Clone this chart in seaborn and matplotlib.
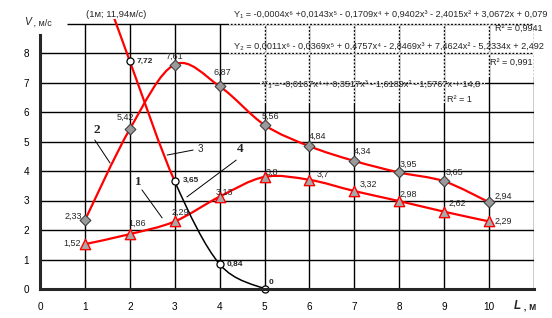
import numpy as np
import matplotlib
matplotlib.use("Agg")
import matplotlib.pyplot as plt
import seaborn as sns
from matplotlib.path import Path
from matplotlib.patches import PathPatch

# ---------------- data ----------------
L = [1, 2, 3, 4, 5, 6, 7, 8, 9, 10]
v_series2 = [2.33, 5.42, 7.61, 6.87, 5.56, 4.84, 4.34, 3.95, 3.65, 2.94]   # diamonds
v_series4 = [1.52, 1.86, 2.29, 3.13, 3.8, 3.7, 3.32, 2.98, 2.62, 2.29]     # triangles
L_series13 = [1, 2, 3, 4, 5]
v_series13 = [11.94, 7.72, 3.65, 0.84, 0]                                   # circles (3 red, 1 black)

x_ticks = [0, 1, 2, 3, 4, 5, 6, 7, 8, 9, 10]
y_ticks = [0, 1, 2, 3, 4, 5, 6, 7, 8]

eq1 = "Y\u2081 = -0,0004x\u2076 +0,0143x\u2075 - 0,1709x\u2074 + 0,9402x\u00b3 - 2,4015x\u00b2 + 3,0672x + 0,079"
r1 = "R\u00b2 = 0,9941"
eq2 = "Y\u2082 = 0,0011x\u2076 - 0,0369x\u2075 + 0,4757x\u2074 - 2,8469x\u00b3 + 7,4624x\u00b2 - 5,2334x + 2,492"
r2 = "R\u00b2 = 0,991"
eq3 = "Y\u2083 = -0,0167x\u2074 + 0,3517x\u00b3 - 1,6189x\u00b2 - 1,5767x + 14,8"
r3 = "R\u00b2 = 1"

# ---------------- style ----------------
sns.set_style("white")
plt.rcParams["font.family"] = ["Liberation Sans", "DejaVu Sans"]

RED = "#ff0000"
fig = plt.figure(figsize=(5.52, 3.18), dpi=100)
ax = fig.add_axes([40 / 552, 29 / 318, 494 / 552, 270 / 318])
ax.set_xlim(0, 11)
ax.set_ylim(0, 270 / 29.5)

for s in ["top", "right"]:
    ax.spines[s].set_visible(False)
ax.spines["left"].set_linewidth(2.2)
ax.spines["bottom"].set_linewidth(2.2)
ax.spines["left"].set_bounds(0, 8.6)
ax.spines["left"].set_zorder(6)
ax.spines["bottom"].set_zorder(6)

ax.set_xticks(x_ticks + [11])
ax.set_xticklabels([str(t) for t in x_ticks] + [""])
ax.set_yticks(y_ticks)
ax.set_yticklabels([str(t) for t in y_ticks])
ax.tick_params(axis="both", direction="out", length=3, width=1.5, labelsize=7.2, colors="black")
ax.tick_params(axis="y", pad=5)
ax.tick_params(axis="x", pad=6)

# grid
ax.hlines([1, 2, 3, 4, 5, 6, 7, 8], 0, 11, colors="black", lw=1.0, zorder=1)
ax.hlines([9], 0.6, 11, colors="black", lw=1.0, zorder=1)
ax.vlines([1, 2, 3, 4, 5, 6, 7, 8, 9, 10, 11], 0, 9, colors="black", lw=1.0, zorder=1)

# dotted look of grid behind the trendline labels
dot = dict(colors="white", lw=1.3, linestyles=[(0, (1, 1))], zorder=1.5)
ax.hlines([8, 9], 4.2, 11, **dot)
ax.vlines([5, 6, 7, 8, 9, 10, 11], 7.2, 9, **dot)
ax.hlines([7], 4.9, 9.9, **dot)
ax.vlines([5, 6, 7, 8, 9], 6.3, 7.2, **dot)


def bezier_segments(xs, ys):
    p = np.column_stack([xs, ys]).astype(float)
    n = len(p)
    segs = []
    for i in range(n - 1):
        p0 = p[max(i - 1, 0)]
        p1 = p[i]
        p2 = p[i + 1]
        p3 = p[min(i + 2, n - 1)]
        segs.append((p1, p1 + (p2 - p0) / 6, p2 - (p3 - p1) / 6, p2))
    return segs


def path_from(segs):
    verts = [segs[0][0]]
    codes = [Path.MOVETO]
    for s in segs:
        verts += [s[1], s[2], s[3]]
        codes += [Path.CURVE4] * 3
    return Path(verts, codes)


ax.add_patch(PathPatch(path_from(bezier_segments(L, v_series2)), fill=False, ec=RED, lw=1.6, zorder=3))
ax.add_patch(PathPatch(path_from(bezier_segments(L, v_series4)), fill=False, ec=RED, lw=1.6, zorder=3))
segs13 = bezier_segments(L_series13, v_series13)
ax.add_patch(PathPatch(path_from(segs13[:2]), fill=False, ec=RED, lw=1.6, zorder=3))
ax.add_patch(PathPatch(path_from(segs13[2:]), fill=False, ec="black", lw=1.1, zorder=3))

# markers
sns.scatterplot(x=L, y=v_series2, ax=ax, marker="D", s=30, color="#9a9a9a",
                edgecolor="#404040", linewidth=0.8, zorder=4, legend=False, clip_on=False)
sns.scatterplot(x=L, y=v_series4, ax=ax, marker="^", s=55, color="#a8a8a8",
                edgecolor=RED, linewidth=1.0, zorder=4, legend=False, clip_on=False)
sns.scatterplot(x=L_series13[1:], y=v_series13[1:], ax=ax, marker="o", s=26, color="white",
                edgecolor="black", linewidth=0.9, zorder=4, legend=False, clip_on=False)


def fmt(v):
    return f"{v:g}".replace(".", ",")


lab2 = [(-3, 4, "right"), (-4, 12, "center"), (0, 8, "center"), (3, 14, "center"), (6, 9, "center"),
        (8, 10, "center"), (8, 10, "center"), (9, 8, "center"), (10, 9, "center"), (14, 6, "center")]
for x, y, (dx, dy, ha) in zip(L, v_series2, lab2):
    ax.annotate(fmt(y), (x, y), xytext=(dx, dy), textcoords="offset pixels", ha=ha, va="center",
                fontsize=6.5, zorder=5)

lab4 = [(-4, 1, "right"), (7, 11, "center"), (6, 9, "center"), (5, 4, "center"), (7, 5, "center"),
        (13, 6, "center"), (14, 7, "center"), (9, 7, "center"), (13, 8, "center"), (5, 0, "left")]
for x, y, (dx, dy, ha) in zip(L, v_series4, lab4):
    ax.annotate(fmt(y), (x, y), xytext=(dx, dy), textcoords="offset pixels", ha=ha, va="center",
                fontsize=6.5, zorder=5)

lab13 = [(7, 0), (8, 1), (7, 0), (4, 6)]
for x, y, (dx, dy) in zip(L_series13[1:], v_series13[1:], lab13):
    ax.annotate(fmt(y), (x, y), xytext=(dx, dy), textcoords="offset pixels", ha="left", va="center",
                fontsize=6, fontweight="bold", zorder=5)

# curve labels with leader lines
lead = dict(arrowstyle="-", color="black", lw=0.7, shrinkA=0, shrinkB=0)
ax.annotate("", xy=(1.56, 4.27), xytext=(1.22, 5.05), arrowprops=lead)
ax.text(1.27, 5.39, "2", fontsize=9.5, fontweight="bold", family=["Liberation Serif"], ha="center", va="center")
ax.annotate("", xy=(2.83, 4.54), xytext=(3.41, 4.71), arrowprops=lead)
ax.text(3.5, 4.74, "3", fontsize=7.2, ha="left", va="center")
ax.annotate("", xy=(3.27, 3.12), xytext=(4.37, 4.37), arrowprops=lead)
ax.text(4.45, 4.74, "4", fontsize=9.5, fontweight="bold", family=["Liberation Serif"], ha="center", va="center")
ax.annotate("", xy=(2.72, 2.41), xytext=(2.27, 3.36), arrowprops=lead)
ax.text(2.2, 3.63, "1", fontsize=9.5, fontweight="bold", family=["Liberation Serif"], ha="center", va="center")

# trendline texts
ax.text(4.32, 9.32, eq1, fontsize=6.6, ha="left", va="center", clip_on=False, zorder=5)
ax.text(11.2, 8.85, r1, fontsize=6.6, ha="right", va="center", clip_on=False, zorder=5)
ax.text(4.32, 8.24, eq2, fontsize=6.6, ha="left", va="center", clip_on=False, zorder=5)
ax.text(10.98, 7.69, r2, fontsize=6.6, ha="right", va="center", zorder=5)
ax.text(4.94, 6.95, eq3, fontsize=6.6, ha="left", va="center", zorder=5)
ax.text(9.06, 6.41, r3, fontsize=6.6, ha="left", va="center", zorder=5)

ax.text(1.69, 9.29, "(1м; 11,94м/с)", fontsize=6.8, ha="center", va="center", clip_on=False)

# axis titles
ax.text(-0.36, 9.05, "V", fontsize=7.5, style="italic", ha="left", va="center", clip_on=False)
ax.text(-0.2, 9.02, " , м/с", fontsize=6.5, ha="left", va="center", clip_on=False)
ax.text(10.63, -0.58, "L", fontsize=8.5, style="italic", fontweight="bold", ha="center", va="center", clip_on=False)
ax.text(10.72, -0.58, " , м", fontsize=7, fontweight="bold", ha="left", va="center", clip_on=False)

fig.savefig("out.png", dpi=100)
